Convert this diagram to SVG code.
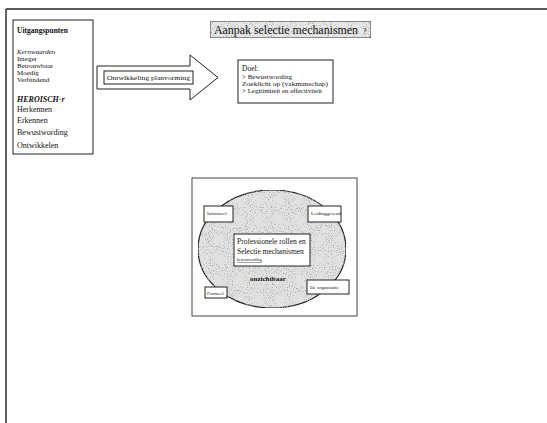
<svg xmlns="http://www.w3.org/2000/svg" width="547" height="423" viewBox="0 0 547 423">
  <style>
    text { font-family: "Liberation Serif", "Times New Roman", serif; fill: #111; }
    .box { fill: #fff; stroke: #222; stroke-width: 1; }
    .small { font-size: 7px; }
    .tiny { font-size: 5px; }
    .frame { stroke: #222; stroke-width: 1.4; fill: none; }
  </style>
  <defs>
    <!-- stippled grey fill, as in a scanned halftone -->
    <filter id="speckle" x="0" y="0" width="100%" height="100%">
      <feTurbulence type="fractalNoise" baseFrequency="0.95" numOctaves="1" seed="7" result="noise"/>
      <feColorMatrix in="noise" type="matrix" values="0 0 0 0 0.4  0 0 0 0 0.4  0 0 0 0 0.4  6 0 0 0 -3.3" result="dots"/>
      <feComposite in="dots" in2="SourceGraphic" operator="in" result="clipped"/>
      <feMerge><feMergeNode in="SourceGraphic"/><feMergeNode in="clipped"/></feMerge>
    </filter>
  </defs>

  <!-- page frame: top and left edges only -->
  <g id="frame">
    <line class="frame" x1="6" y1="9" x2="547" y2="9" stroke="#555" stroke-width="1.1"/>
    <line class="frame" x1="6" y1="9" x2="6" y2="423"/>
  </g>

  <g id="uitgangspunten">
    <rect class="box" x="13" y="20" width="80" height="134"/>
    <text x="17" y="33" font-size="7.5" font-weight="bold">Uitgangspunten</text>
    <text class="small" x="17" y="54" font-style="italic">Kernwaarden</text>
    <text class="small" x="17" y="61">Integer</text>
    <text class="small" x="17" y="68">Betrouwbaar</text>
    <text class="small" x="17" y="75">Moedig</text>
    <text class="small" x="17" y="82">Verbindend</text>
    <text x="17" y="102" font-size="8" font-style="italic" font-weight="bold">HEROISCH-r</text>
    <text x="17" y="112" font-size="8">Herkennen</text>
    <text x="17" y="123" font-size="8">Erkennen</text>
    <text x="17" y="135" font-size="8">Bewustwording</text>
    <text x="17" y="148" font-size="8">Ontwikkelen</text>
  </g>

  <g id="titel">
    <rect x="210" y="21" width="161" height="17" fill="#e8e8e8" stroke="#222" stroke-width="1" filter="url(#speckle)"/>
    <text x="214" y="34" font-size="11.5" textLength="144" lengthAdjust="spacingAndGlyphs">Aanpak selectie mechanismen</text>
    <text x="363" y="34" font-size="8" fill="#555">?</text>
  </g>

  <g id="connectors">
    <path d="M97 66 L190 66 L190 55 L218 77.5 L190 100 L190 89 L97 89 Z" fill="#fff" stroke="#222" stroke-width="1"/>
  </g>

  <g id="ontwikkeling">
    <rect class="box" x="104" y="71" width="89" height="13"/>
    <text x="107" y="80" font-size="6" textLength="83" lengthAdjust="spacingAndGlyphs">Ontwikkeling planvorming</text>
  </g>

  <g id="doel">
    <rect class="box" x="238" y="60" width="95" height="43"/>
    <text x="242" y="71" font-size="7.5">Doel:</text>
    <text class="small" x="242" y="79" font-size="6.5">&gt; Bewustwording</text>
    <text class="small" x="242" y="86" font-size="6.5" textLength="86" lengthAdjust="spacingAndGlyphs">Zoeklicht op (vakmanschap)</text>
    <text class="small" x="242" y="93" font-size="6.5" textLength="80" lengthAdjust="spacingAndGlyphs">&gt; Legitimiteit en effectiviteit</text>
  </g>

  <g id="rollen-diagram">
    <rect x="192" y="178" width="165" height="138" fill="#fff" stroke="#444" stroke-width="1"/>
    <ellipse cx="272" cy="249" rx="74" ry="59" fill="#e2e2e2" stroke="#222" stroke-width="1.2" filter="url(#speckle)"/>
    <text x="250" y="281" font-size="7" font-weight="bold">onzichtbaar</text>
  </g>

  <g id="informeel">
    <rect class="box" x="204" y="206" width="29" height="16"/>
    <text class="tiny" x="207" y="215">Informeel</text>
  </g>

  <g id="leidinggevend">
    <rect class="box" x="308" y="206" width="33" height="16"/>
    <text class="tiny" x="311" y="215">Leidinggevend</text>
  </g>

  <g id="professionele-rollen">
    <rect class="box" x="234" y="234" width="76" height="32"/>
    <text x="237" y="244" font-size="7.5">Professionele rollen en</text>
    <text x="237" y="254" font-size="7.5">Selectie mechanismen</text>
    <text x="237" y="261" font-size="4" text-decoration="underline">bewustwording</text>
  </g>

  <g id="formeel">
    <rect class="box" x="205" y="287" width="22" height="11"/>
    <text class="tiny" x="207" y="294.5" font-size="4.5">Formeel</text>
  </g>

  <g id="organisatie">
    <rect class="box" x="307" y="280" width="42" height="14"/>
    <text class="tiny" x="310" y="289">De organisatie</text>
  </g>
</svg>
